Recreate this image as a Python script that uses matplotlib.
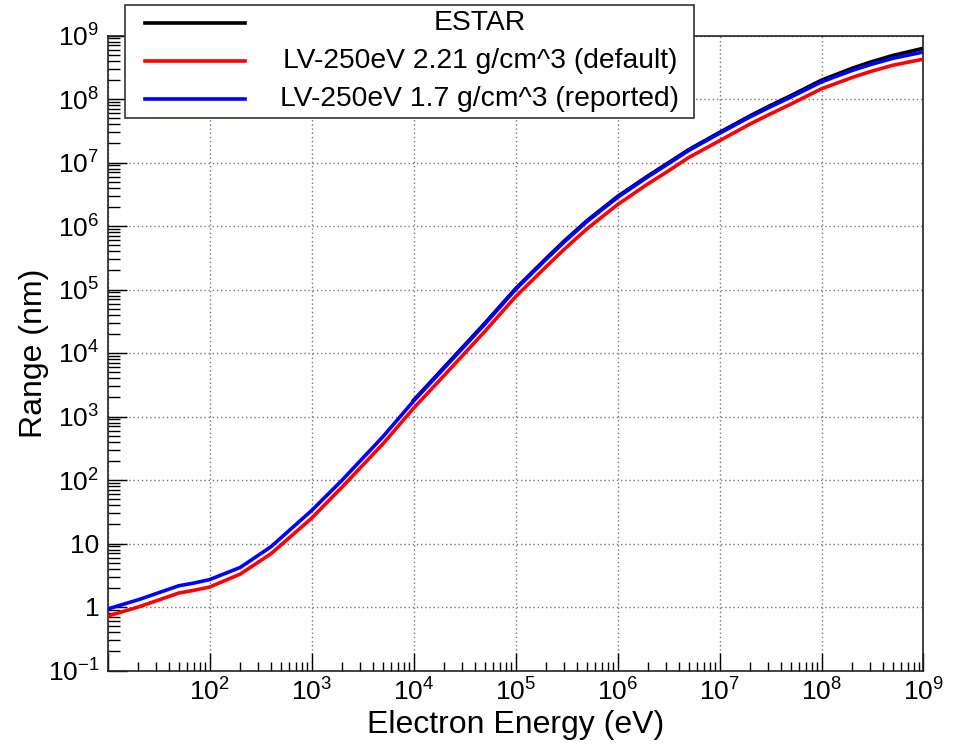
import matplotlib
matplotlib.use("Agg")
import matplotlib.pyplot as plt
from matplotlib.patches import Rectangle
from matplotlib.lines import Line2D
from matplotlib.ticker import FixedLocator, FixedFormatter, LogLocator, NullFormatter

plt.rcParams['font.family'] = ['Liberation Sans', 'DejaVu Sans']
plt.rcParams['mathtext.fontset'] = 'custom'
plt.rcParams['mathtext.rm'] = 'Liberation Sans'
plt.rcParams['mathtext.it'] = 'Liberation Sans'
plt.rcParams['mathtext.bf'] = 'Liberation Sans'

# ---------------- data ----------------
energy_lv = [10, 20, 50, 70, 100, 200, 400, 1e3, 2e3, 5e3, 1e4, 2e4, 5e4, 1e5, 2e5, 3e5,
             5e5, 1e6, 2e6, 3e6, 5e6, 1e7, 2e7, 3e7, 5e7, 1e8, 2e8, 3e8, 5e8, 1e9]
range_default = [0.72, 1.0, 1.66, 1.83, 2.06, 3.3, 6.9, 25, 78, 370, 1350, 4450, 21900, 7.7e4,
                 2.3e5, 4.3e5, 9.0e5, 2.17e6, 4.65e6, 7.0e6, 1.20e7, 2.2e7, 4.05e7, 5.6e7,
                 8.3e7, 1.45e8, 2.18e8, 2.7e8, 3.4e8, 4.25e8]
range_reported = [0.93, 1.30, 2.16, 2.38, 2.70, 4.2, 8.9, 33, 100, 480, 1750, 5800, 28500, 1.0e5,
                  3.0e5, 5.6e5, 1.17e6, 2.82e6, 6.0e6, 9.1e6, 1.55e7, 2.88e7, 5.25e7, 7.25e7,
                  1.07e8, 1.86e8, 2.82e8, 3.47e8, 4.37e8, 5.5e8]
energy_estar = [1e4, 2e4, 5e4, 1e5, 2e5, 3e5, 5e5, 1e6, 2e6, 3e6, 5e6, 1e7, 2e7, 3e7, 5e7,
                1e8, 2e8, 3e8, 5e8, 1e9]
range_estar = [1800, 6000, 29500, 1.03e5, 3.1e5, 5.8e5, 1.21e6, 2.92e6, 6.2e6, 9.4e6, 1.6e7,
               2.98e7, 5.45e7, 7.6e7, 1.13e8, 1.98e8, 3.05e8, 3.8e8, 4.85e8, 6.3e8]

series_labels = ["ESTAR", "LV-250eV 2.21 g/cm^3 (default)", "LV-250eV 1.7 g/cm^3 (reported)"]
series_colors = ["#000000", "#ff0000", "#0000ff"]

x_ticks = [1e1, 1e2, 1e3, 1e4, 1e5, 1e6, 1e7, 1e8, 1e9]
x_ticklabels = ["", r"$10^{2}$", r"$10^{3}$", r"$10^{4}$", r"$10^{5}$", r"$10^{6}$",
                r"$10^{7}$", r"$10^{8}$", r"$10^{9}$"]
y_ticks = [1e-1, 1, 1e1, 1e2, 1e3, 1e4, 1e5, 1e6, 1e7, 1e8, 1e9]
y_ticklabels = [r"$10^{-1}$", "1", "10", r"$10^{2}$", r"$10^{3}$", r"$10^{4}$", r"$10^{5}$",
                r"$10^{6}$", r"$10^{7}$", r"$10^{8}$", r"$10^{9}$"]

# ---------------- figure ----------------
W, H = 954, 744
fig = plt.figure(figsize=(W / 100, H / 100), dpi=100)
ax = fig.add_axes([107.6 / W, 1 - 670.5 / H, (923.5 - 107.6) / W, (670.5 - 35.5) / H])

lw = 2.6
ax.plot(energy_estar, range_estar, color=series_colors[0], lw=lw, zorder=3)
ax.plot(energy_lv, range_default, color=series_colors[1], lw=lw, zorder=4)
ax.plot(energy_lv, range_reported, color=series_colors[2], lw=lw, zorder=5)

ax.set_xscale('log')
ax.set_yscale('log')
ax.set_xlim(10, 1e9)
ax.set_ylim(0.1, 1e9)

ax.xaxis.set_major_locator(FixedLocator(x_ticks))
ax.xaxis.set_major_formatter(FixedFormatter(x_ticklabels))
ax.yaxis.set_major_locator(FixedLocator(y_ticks))
ax.yaxis.set_major_formatter(FixedFormatter(y_ticklabels))
ax.xaxis.set_minor_locator(LogLocator(base=10, subs=range(2, 10), numticks=50))
ax.yaxis.set_minor_locator(LogLocator(base=10, subs=range(2, 10), numticks=50))
ax.xaxis.set_minor_formatter(NullFormatter())
ax.yaxis.set_minor_formatter(NullFormatter())

ax.tick_params(axis='x', which='major', direction='in', length=13, width=1, labelsize=19, pad=6,
               top=False)
ax.tick_params(axis='x', which='minor', direction='in', length=6.5, width=1, top=False)
ax.tick_params(axis='y', which='major', direction='in', length=14, width=1, labelsize=19, pad=6,
               right=False)
ax.tick_params(axis='y', which='minor', direction='in', length=8.5, width=1, right=False)

ax.grid(True, which='major', color='#777777', linestyle=(0, (1, 2)), linewidth=1.0)
for sp in ax.spines.values():
    sp.set_linewidth(1.2)
    sp.set_color('#222222')

ax.set_xlabel("Electron Energy (eV)", fontsize=23, labelpad=3)
ax.set_ylabel("Range (nm)", fontsize=23, labelpad=-1)

# ---------------- legend (ROOT style) ----------------
box_l, box_r, box_t, box_b = 125, 694, 5, 118
fig.add_artist(Rectangle((box_l / W, 1 - box_b / H), (box_r - box_l) / W, (box_b - box_t) / H,
                         transform=fig.transFigure, facecolor='white', edgecolor='#333333',
                         lw=1.2, zorder=10))
row_y = [23, 61, 99]
for lab, col, yy in zip(series_labels, series_colors, row_y):
    fig.add_artist(Line2D([145 / W, 245 / W], [1 - yy / H, 1 - yy / H], color=col, lw=lw,
                          transform=fig.transFigure, zorder=11))
    fig.text(480 / W, 1 - yy / H, lab, fontsize=20.3, ha='center', va='center', zorder=12)

fig.savefig("out.png", dpi=100)
